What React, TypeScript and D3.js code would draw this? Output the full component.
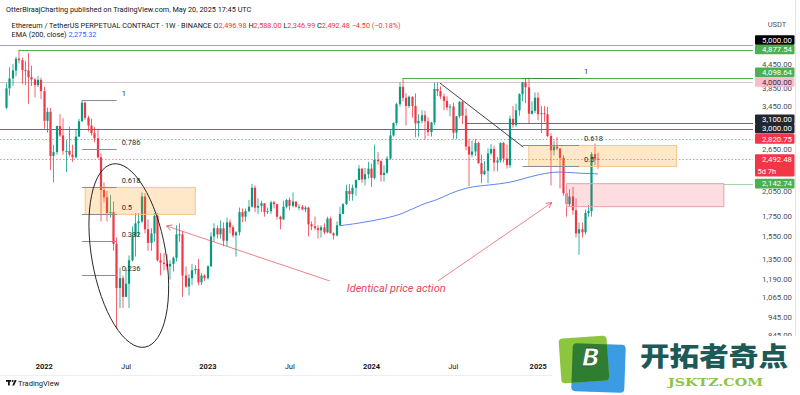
import React, { useEffect, useRef } from "react";
import * as d3 from "d3";

const W = 800;
const H = 395;
const PLOT_RIGHT = 753;

// ── Weekly candles (Monday opens), open = previous close ──
const FIRST_WEEK = "2021-10-11";
const LAST_WEEK = "2025-05-19";
const FIRST_OPEN = 3414;

const closes = [
  3845, 4085, 4290, 4610, 4570, 4300, 4290, 4120, 4060, 3920, 4050, 3780,
  3150, 3330, 2540, 2600, 3050, 2880, 2620, 2620, 2560, 2520, 2860, 3140,
  3520, 3210, 3060, 2920, 2830, 2520, 2060, 1970, 1790, 1800, 1480, 1130,
  1200, 1070, 1160, 1340, 1550, 1680, 1700, 1980, 1620, 1490, 1580, 1760,
  1340, 1320, 1310, 1290, 1310, 1360, 1570, 1570, 1220, 1140, 1200, 1260,
  1270, 1170, 1220, 1200,
  1290, 1550, 1630, 1570, 1630, 1510, 1690, 1640, 1560, 1590, 1800, 1750,
  1810, 1860, 2090, 1850, 1870, 1900, 1800, 1810, 1910, 1890, 1750, 1720,
  1860, 1940, 1870, 1920, 1860, 1860, 1830, 1850, 1670, 1650, 1630, 1610,
  1640, 1590, 1730, 1580, 1560, 1660, 1780, 1890, 2050, 2010, 2090, 2190,
  2350, 2200, 2270, 2350,
  2220, 2480, 2460, 2260, 2290, 2500, 2880, 3110, 3490, 3880, 3630, 3450,
  3650, 3450, 3100, 3150, 3260, 3140, 2940, 3120, 3830, 3780, 3660, 3560,
  3420, 3440, 2930, 3240, 3540, 3250, 2690, 2560, 2610, 2750, 2430, 2270,
  2320, 2580, 2650, 2440, 2470, 2750, 2500, 2400, 3190, 3070, 3360, 3710,
  3990, 3870, 3290, 3350,
  3630, 3280, 3300, 3280, 2870, 2630, 2690, 2660, 2510, 2020, 1890, 1980,
  1820, 1580, 1620, 1590, 1790, 1810, 2570, 2496.98, 2492.48,
];

const highs = [
  3970, 4375, 4460, 4665, 4877.54, 4640, 4550, 4780, 4420, 4100, 4140, 4100,
  3880, 3415, 3410, 2720, 3060, 3280, 3200, 2800, 3040, 2720, 3000, 3190,
  3580, 3550, 3250, 3190, 3030, 3000, 2580, 2160, 2050, 2000, 1920, 1540,
  1280, 1220, 1280, 1380, 1650, 1790, 1790, 2030, 2020, 1720, 1630, 1790,
  1790, 1400, 1400, 1390, 1340, 1370, 1660, 1680, 1600, 1290, 1230, 1310,
  1300, 1350, 1240, 1230,
  1300, 1590, 1680, 1660, 1710, 1690, 1740, 1720, 1660, 1600, 1850, 1840,
  1840, 1940, 2140, 2120, 1960, 1930, 1900, 1850, 1930, 1930, 1890, 1760,
  1930, 1950, 1970, 2030, 1920, 1890, 1880, 1870, 1860, 1700, 1750, 1660,
  1660, 1680, 1750, 1750, 1590, 1700, 1860, 1900, 2130, 2140, 2130, 2200,
  2400, 2350, 2360, 2450,
  2420, 2720, 2600, 2470, 2400, 2540, 2980, 3120, 3520, 3990, 4098, 3730,
  3680, 3660, 3730, 3280, 3360, 3350, 3220, 3130, 3980, 3980, 3890, 3720,
  3660, 3490, 3520, 3250, 3560, 3560, 3400, 2820, 2790, 2820, 2770, 2560,
  2460, 2660, 2730, 2700, 2520, 2760, 2770, 2720, 3250, 3450, 3500, 3730,
  4000, 4098, 4105, 3550,
  3750, 3750, 3450, 3450, 3430, 2920, 2790, 2850, 2660, 2550, 2020, 2070,
  2100, 1960, 1690, 1690, 1830, 1880, 2600, 2740, 2588,
];

const lows = [
  3380, 3680, 3900, 4140, 4480, 3950, 3920, 3500, 3900, 3640, 3880, 3600,
  3000, 2930, 2330, 2160, 2560, 2850, 2560, 2300, 2530, 2450, 2500, 2850,
  3140, 3170, 2950, 2880, 2760, 2500, 1700, 1910, 1700, 1740, 1420, 880,
  1000, 1000, 1070, 1000, 1330, 1370, 1550, 1680, 1580, 1420, 1420, 1500,
  1330, 1220, 1260, 1260, 1190, 1250, 1330, 1500, 1070, 1130, 1080, 1150,
  1230, 1150, 1150, 1180,
  1190, 1290, 1500, 1530, 1530, 1460, 1460, 1580, 1540, 1370, 1560, 1690,
  1700, 1800, 1850, 1800, 1780, 1800, 1750, 1780, 1780, 1840, 1720, 1620,
  1720, 1840, 1820, 1850, 1850, 1820, 1820, 1800, 1550, 1610, 1610, 1530,
  1540, 1570, 1580, 1580, 1520, 1550, 1650, 1780, 1880, 1930, 1930, 1990,
  2190, 2150, 2120, 2210,
  2100, 2200, 2410, 2170, 2170, 2280, 2480, 2860, 3060, 3440, 3550, 3060,
  3410, 3210, 2850, 2860, 3100, 2810, 2870, 2860, 3070, 3670, 3600, 3360,
  3360, 3240, 2810, 2820, 3210, 3090, 2630, 2110, 2520, 2540, 2420, 2150,
  2260, 2150, 2550, 2310, 2310, 2440, 2440, 2350, 2360, 3020, 3030, 3250,
  3550, 3510, 3100, 3270,
  3300, 3160, 2920, 3130, 2850, 2120, 2550, 2630, 2080, 1990, 1750, 1860,
  1770, 1540, 1385, 1540, 1570, 1750, 1750, 2400, 2346.99,
];

// ── EMA (200, close) ──
const emaDates = [
  "2023-10-23", "2023-12-04", "2024-01-29", "2024-03-11", "2024-04-22",
  "2024-05-27", "2024-06-24", "2024-07-29", "2024-08-26", "2024-10-14",
  "2024-11-18", "2024-12-16", "2025-02-03", "2025-03-03", "2025-04-07",
  "2025-05-19",
];
const emaValues = [
  1656, 1681, 1729, 1779, 1892, 1939, 2020, 2087, 2113, 2139, 2178, 2233,
  2302, 2302, 2284, 2275.32,
];

// ── Axes ──
const priceTicks = [4450, 3850, 3450, 2650, 2050, 1750, 1550, 1350, 1190, 1065, 945, 845];
const timeTickDates = [
  "2022-01-03", "2022-07-04", "2023-01-02", "2023-07-03", "2024-01-01",
  "2024-07-01", "2025-01-06",
];
const timeTickLabels = ["2022", "Jul", "2023", "Jul", "2024", "Jul", "2025"];

// ── Horizontal levels ──
const levelPrices = [5000, 4877.54, 4098.64, 4000, 3100, 3000, 2820.75, 2492.48, 2142.74];
const levelStarts = [null, "2021-11-08", "2024-03-11", null, "2024-07-29", null, null, null, "2026-02-23"];
const levelKinds = ["black", "green", "green", "pink", "dark", "dark", "redDot", "price", "green"];

// ── Fibonacci retracements (log) ──
const leftFibRange = [880, 3580];
const leftFibDates = ["2022-03-28", "2022-06-13"];
const leftFibRatios = [1, 0.786, 0.618, 0.5, 0.382, 0.236];
const rightFibRange = [1385, 4098.64];
const rightFibDates = ["2024-12-02", "2025-04-07"];
const rightFibRatios = [1, 0.618, 0.5];

// ── Zones ──
const leftZoneDates = ["2022-04-04", "2022-12-05"];
const rightZoneDates = ["2024-12-16", "2025-11-10"];
const redZoneDates = ["2025-03-10", "2026-02-23"];
const redZonePrices = [2142.74, 1861];

// ── Drawings ──
const trendLine = [["2024-06-01", 3975], ["2024-12-04", 2680]] as const;
const arrowLeft = [["2023-09-30", 1180], ["2022-10-02", 1653]] as const;
const arrowRight = [["2024-05-28", 1180], ["2025-02-05", 1907]] as const;
const noteAnchor = ["2024-02-25", 1102] as const;
const ellipseCenter = ["2022-07-10", 1379] as const;

const UP = "#089981";
const DOWN = "#f23645";
const FONT = "Roboto, 'Liberation Sans', sans-serif";

export default function App() {
  const svgRef = useRef<SVGSVGElement>(null);

  useEffect(() => {
    document.body.style.margin = "0";
    const svg = d3.select(svgRef.current);
    svg.selectAll("*").remove();

    const parse = d3.utcParse("%Y-%m-%d");
    const x = d3
      .scaleUtc()
      .domain([parse(FIRST_WEEK)!, parse(LAST_WEEK)!])
      .range([6.55, 598]);
    const y = d3.scaleLog().domain([1350, 3450]).range([259, 106]);
    const X = (s: string) => x(parse(s)!);
    const fibPrice = (r: [number, number] | number[], k: number) =>
      Math.exp(Math.log(r[0]) + k * (Math.log(r[1]) - Math.log(r[0])));

    svg.append("rect").attr("width", W).attr("height", H).attr("fill", "#fff");

    svg
      .append("defs")
      .append("clipPath")
      .attr("id", "plot")
      .append("rect")
      .attr("x", 0)
      .attr("y", 0)
      .attr("width", PLOT_RIGHT)
      .attr("height", 357);

    const g = svg.append("g").attr("clip-path", "url(#plot)");

    // ── Horizontal level lines ──────────────────────────
    const lineStyle: Record<string, { stroke: string; dash?: string; w: number }> = {
      black: { stroke: "#a3a6af", w: 1 },
      green: { stroke: "#4caf50", w: 1 },
      pink: { stroke: "#d9c3c7", w: 1 },
      dark: { stroke: "#6a6d78", w: 1 },
      redDot: { stroke: "#f28b95", w: 1, dash: "1.5,2" },
      price: { stroke: "#f28b95", w: 1, dash: "1.5,2" },
    };
    levelPrices.forEach((p, i) => {
      const st = lineStyle[levelKinds[i]];
      const x0 = levelStarts[i] ? X(levelStarts[i] as string) : 0;
      g.append("line")
        .attr("x1", x0)
        .attr("x2", PLOT_RIGHT)
        .attr("y1", Math.round(y(p)) + 0.5)
        .attr("y2", Math.round(y(p)) + 0.5)
        .attr("stroke", st.stroke)
        .attr("stroke-width", st.w)
        .attr("stroke-dasharray", st.dash ?? null)
        .attr("opacity", levelKinds[i] === "green" && i === 8 ? 0.5 : 1);
    });

    // ── EMA 200 ─────────────────────────────────────────
    const ema = d3
      .line<number>()
      .x((_, i) => X(emaDates[i]))
      .y((d) => y(d))
      .curve(d3.curveBasis);
    g.append("path")
      .attr("d", ema(emaValues))
      .attr("fill", "none")
      .attr("stroke", "#5a86f0")
      .attr("stroke-width", 1);

    // ── Candles ─────────────────────────────────────────
    const first = parse(FIRST_WEEK)!;
    closes.forEach((c, i) => {
      const o = i === 0 ? FIRST_OPEN : closes[i - 1];
      const cx = Math.round(x(d3.utcMonday.offset(first, i)) * 2) / 2;
      const col = c >= o ? UP : DOWN;
      g.append("line")
        .attr("x1", cx)
        .attr("x2", cx)
        .attr("y1", y(highs[i]))
        .attr("y2", y(lows[i]))
        .attr("stroke", col)
        .attr("stroke-width", 0.9)
        .attr("opacity", 0.85);
      const top = Math.min(y(o), y(c));
      const h = Math.max(1, Math.abs(y(o) - y(c)));
      g.append("rect")
        .attr("x", cx - 1.1)
        .attr("width", 2.2)
        .attr("y", top)
        .attr("height", h)
        .attr("fill", col);
    });

    // ── Zones ───────────────────────────────────────────
    const zone = (d: string[], p: number[], fill: string, stroke: string, op: number) =>
      g
        .append("rect")
        .attr("x", X(d[0]))
        .attr("width", X(d[1]) - X(d[0]))
        .attr("y", y(p[0]))
        .attr("height", y(p[1]) - y(p[0]))
        .attr("fill", fill)
        .attr("fill-opacity", op)
        .attr("stroke", stroke)
        .attr("stroke-width", 1);

    zone(
      leftZoneDates,
      [fibPrice(leftFibRange, 0.618), fibPrice(leftFibRange, 0.5)],
      "#ff9800",
      "#f6c58a",
      0.22,
    );
    zone(
      rightZoneDates,
      [fibPrice(rightFibRange, 0.618), fibPrice(rightFibRange, 0.5)],
      "#ff9800",
      "#f6c58a",
      0.22,
    );
    zone(redZoneDates, redZonePrices, "#f23645", "#e3a2aa", 0.17);

    // ── Fibonacci retracements ──────────────────────────
    const fib = (range: number[], dates: string[], ratios: number[]) => {
      const x0 = X(dates[0]);
      const x1 = X(dates[1]);
      ratios.forEach((r) => {
        const yy = Math.round(y(fibPrice(range, r))) + 0.5;
        g.append("line")
          .attr("x1", x0)
          .attr("x2", x1)
          .attr("y1", yy)
          .attr("y2", yy)
          .attr("stroke", r === 1 && range === rightFibRange ? "#3f8f47" : "#8a8d96")
          .attr("stroke-width", 1);
        g.append("text")
          .attr("x", x1 + 5)
          .attr("y", yy - 5)
          .attr("font-size", 7.5)
          .attr("fill", "#2a2e39")
          .text(String(r));
      });
    };
    fib(leftFibRange, leftFibDates, leftFibRatios);
    fib(rightFibRange, rightFibDates, rightFibRatios);

    // ── Trend line ──────────────────────────────────────
    g.append("line")
      .attr("x1", X(trendLine[0][0]))
      .attr("y1", y(trendLine[0][1]))
      .attr("x2", X(trendLine[1][0]))
      .attr("y2", y(trendLine[1][1]))
      .attr("stroke", "#2a2e39")
      .attr("stroke-width", 0.9);

    // ── Ellipse ─────────────────────────────────────────
    g.append("ellipse")
      .attr(
        "transform",
        `translate(${X(ellipseCenter[0])},${y(ellipseCenter[1])}) rotate(-10)`,
      )
      .attr("rx", 37)
      .attr("ry", 93)
      .attr("fill", "none")
      .attr("stroke", "#1e1e1e")
      .attr("stroke-width", 0.9);

    // ── Arrows + note ───────────────────────────────────
    const RED_NOTE = "#e2475b";
    const arrow = (a: readonly (readonly [string, number])[]) => {
      const x0 = X(a[0][0]);
      const y0 = y(a[0][1]);
      const x1 = X(a[1][0]);
      const y1 = y(a[1][1]);
      g.append("line")
        .attr("x1", x0)
        .attr("y1", y0)
        .attr("x2", x1)
        .attr("y2", y1)
        .attr("stroke", RED_NOTE)
        .attr("stroke-width", 0.8)
        .attr("opacity", 0.85);
      const ang = Math.atan2(y0 - y1, x0 - x1);
      [-0.5, 0.5].forEach((da) => {
        g.append("line")
          .attr("x1", x1)
          .attr("y1", y1)
          .attr("x2", x1 + 6 * Math.cos(ang + da))
          .attr("y2", y1 + 6 * Math.sin(ang + da))
          .attr("stroke", RED_NOTE)
          .attr("stroke-width", 0.8);
      });
    };
    arrow(arrowLeft);
    arrow(arrowRight);
    g.append("text")
      .attr("x", X(noteAnchor[0]))
      .attr("y", y(noteAnchor[1]))
      .attr("text-anchor", "middle")
      .attr("font-size", 11)
      .attr("font-style", "italic")
      .attr("fill", RED_NOTE)
      .text("Identical price action");

    // ── Right price axis ────────────────────────────────
    svg
      .append("line")
      .attr("x1", 795.5)
      .attr("x2", 795.5)
      .attr("y1", 0)
      .attr("y2", 375)
      .attr("stroke", "#e0e3eb");

    svg
      .append("text")
      .attr("x", 777)
      .attr("y", 27)
      .attr("text-anchor", "middle")
      .attr("font-size", 7.5)
      .attr("fill", "#50535e")
      .text("USDT");

    priceTicks.forEach((p) => {
      svg
        .append("text")
        .attr("x", 792)
        .attr("y", y(p) + 2.7)
        .attr("text-anchor", "end")
        .attr("font-size", 7.8)
        .attr("fill", "#4a4d57")
        .text(d3.format(",.2f")(p));
    });

    const labelStyle: Record<string, { bg: string; fg: string }> = {
      black: { bg: "#000000", fg: "#ffffff" },
      green: { bg: "#4caf50", fg: "#ffffff" },
      pink: { bg: "#f8bbd0", fg: "#2a2e39" },
      dark: { bg: "#22262f", fg: "#ffffff" },
      redDot: { bg: "#f23645", fg: "#ffffff" },
      price: { bg: "#f23645", fg: "#ffffff" },
    };
    const LH = 9.6;
    const labels = levelPrices
      .map((p, i) => ({ p, kind: levelKinds[i], yy: y(p) }))
      .sort((a, b) => b.yy - a.yy);
    let prevTop = Infinity;
    labels.forEach((l) => {
      const below = l.kind === "price" ? 17.5 : LH / 2;
      if (l.yy + below > prevTop) l.yy = prevTop - below;
      prevTop = l.yy - LH / 2;
    });
    labels.forEach((l) => {
      const st = labelStyle[l.kind];
      const hgt = l.kind === "price" ? LH / 2 + 17.5 : LH;
      svg
        .append("rect")
        .attr("x", 755)
        .attr("y", l.yy - LH / 2)
        .attr("width", 39.5)
        .attr("height", hgt)
        .attr("rx", 1)
        .attr("fill", st.bg);
      svg
        .append("text")
        .attr("x", 792)
        .attr("y", l.yy + 2.7)
        .attr("text-anchor", "end")
        .attr("font-size", 7.8)
        .attr("fill", st.fg)
        .text(d3.format(",.2f")(l.p));
      if (l.kind === "price") {
        svg
          .append("text")
          .attr("x", 757.5)
          .attr("y", l.yy + 14.5)
          .attr("font-size", 7.5)
          .attr("fill", st.fg)
          .text("5d 7h");
      }
    });

    // ── Time axis ───────────────────────────────────────
    timeTickDates.forEach((d, i) => {
      const isYear = timeTickLabels[i] !== "Jul";
      svg
        .append("text")
        .attr("x", X(d))
        .attr("y", 369)
        .attr("text-anchor", "middle")
        .attr("font-size", 7.5)
        .attr("font-weight", isYear ? 700 : 400)
        .attr("fill", "#131722")
        .text(timeTickLabels[i]);
    });
    svg
      .append("line")
      .attr("x1", 0)
      .attr("x2", W)
      .attr("y1", 375.5)
      .attr("y2", 375.5)
      .attr("stroke", "#eceef2");

    // TradingView footer
    const tv = svg.append("g").attr("fill", "#131722");
    tv.append("rect").attr("x", 6).attr("y", 380).attr("width", 5).attr("height", 1.8);
    tv.append("rect").attr("x", 8).attr("y", 380).attr("width", 1.8).attr("height", 5.5);
    tv.append("circle").attr("cx", 12.6).attr("cy", 381).attr("r", 1);
    tv.append("path").attr("d", "M12.2,385.5 L14.6,380 L16.6,380 L14.2,385.5 Z");
    tv.append("text")
      .attr("x", 18)
      .attr("y", 385.5)
      .attr("font-size", 7.5)
      .text("TradingView");

    // ── Header ──────────────────────────────────────────
    svg
      .append("text")
      .attr("x", 6)
      .attr("y", 12)
      .attr("font-size", 7.3)
      .attr("fill", "#131722")
      .text("OtterBiraajCharting published on TradingView.com, May 20, 2025 17:45 UTC");

    const l2 = svg.append("text").attr("x", 11.5).attr("y", 27.5).attr("font-size", 7.3).attr("fill", "#131722");
    l2.append("tspan").text("Ethereum / TetherUS PERPETUAL CONTRACT · 1W · BINANCE  ");
    [
      ["O", "2,496.98"],
      ["H", "2,588.00"],
      ["L", "2,346.99"],
      ["C", "2,492.48"],
    ].forEach(([k, v]) => {
      l2.append("tspan").text(k);
      l2.append("tspan").attr("fill", DOWN).text(v + "  ");
    });
    l2.append("tspan").attr("fill", DOWN).text("−4.50 (−0.18%)");

    const l3 = svg.append("text").attr("x", 11.5).attr("y", 37).attr("font-size", 7.3).attr("fill", "#131722");
    l3.append("tspan").text("EMA (200, close)  ");
    l3.append("tspan").attr("fill", "#2962ff").text("2,275.32");

    // ── Watermark ───────────────────────────────────────
    const wm = svg.append("g");
    wm.append("rect").attr("x", 552).attr("y", 336).attr("width", 248).attr("height", 59).attr("fill", "#fff");
    const defs = svg.select("defs");
    defs
      .append("clipPath")
      .attr("id", "greenTile")
      .append("rect")
      .attr("x", 560)
      .attr("y", 337)
      .attr("width", 48)
      .attr("height", 45)
      .attr("rx", 4)
      .attr("transform", "rotate(-4 584 360)");
    const blue = () =>
      wm
        .append("rect")
        .attr("x", 572)
        .attr("y", 344)
        .attr("width", 53)
        .attr("height", 48)
        .attr("rx", 4)
        .attr("transform", "rotate(2 598 368)");
    blue().attr("fill", "#3b9be3");
    wm.append("rect")
      .attr("x", 560)
      .attr("y", 337)
      .attr("width", 48)
      .attr("height", 45)
      .attr("rx", 4)
      .attr("transform", "rotate(-4 584 360)")
      .attr("fill", "#8cc63f");
    wm.append("g").attr("clip-path", "url(#greenTile)").append("rect")
      .attr("x", 572)
      .attr("y", 344)
      .attr("width", 53)
      .attr("height", 48)
      .attr("rx", 4)
      .attr("transform", "rotate(2 598 368)")
      .attr("fill", "#2f7d33");
    wm.append("text")
      .attr("x", 591)
      .attr("y", 366)
      .attr("text-anchor", "middle")
      .attr("font-family", "'DejaVu Sans', sans-serif")
      .attr("font-weight", 700)
      .attr("font-style", "italic")
      .attr("font-size", 24)
      .attr("fill", "#ffffff")
      .attr("stroke", "#1f5e2a")
      .attr("stroke-width", 0.8)
      .text("B");
    wm.append("text")
      .attr("x", 640)
      .attr("y", 366)
      .attr("font-family", "'Noto Sans CJK SC', sans-serif")
      .attr("font-weight", 900)
      .attr("font-size", 26)
      .attr("textLength", 148)
      .attr("lengthAdjust", "spacingAndGlyphs")
      .attr("fill", "#1d5a57")
      .text("开拓者奇点");
    wm.append("text")
      .attr("x", 668)
      .attr("y", 386)
      .attr("font-family", "'DejaVu Serif', serif")
      .attr("font-weight", 700)
      .attr("font-size", 11.5)
      .attr("textLength", 95)
      .attr("lengthAdjust", "spacingAndGlyphs")
      .attr("fill", "#8cc63f")
      .text("JSKTZ.COM");
  }, []);

  return (
    <svg
      ref={svgRef}
      width={W}
      height={H}
      style={{ position: "absolute", left: 0, top: 0, fontFamily: FONT }}
    />
  );
}
